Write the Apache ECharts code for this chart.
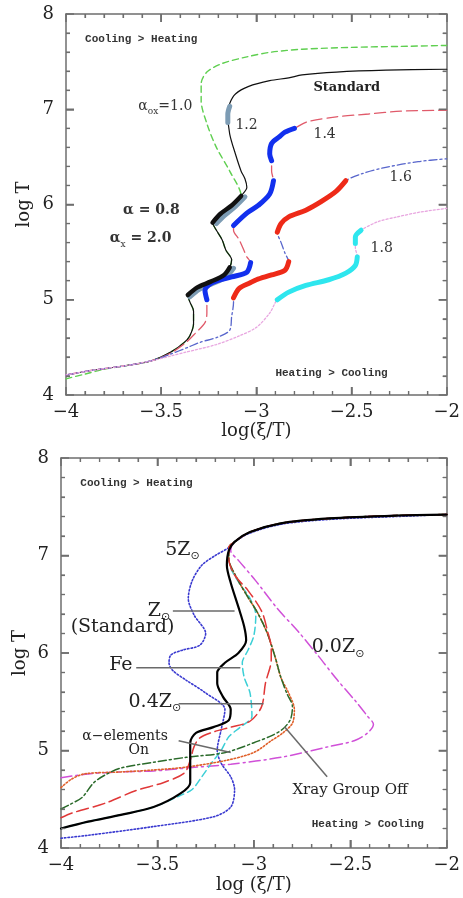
<!DOCTYPE html>
<html>
<head>
<meta charset="utf-8">
<script src="https://cdn.jsdelivr.net/npm/echarts@6.0.0/dist/echarts.min.js"></script>
<style>
html, body { margin: 0; padding: 0; background: #fff; }
#chart { width: 463px; height: 898px; }
</style>
</head>
<body>
<div id="chart"></div>
<script>
// ---- top panel: alpha_ox curves (log xi/T, log T) ----
const aox10 = [[-4,4.17],[-3.9,4.22],[-3.8,4.27],[-3.68,4.31],[-3.55,4.36],[-3.45,4.45],[-3.38,4.55],[-3.35,4.62],[-3.33,4.75],[-3.33,4.88],[-3.35,4.98],[-3.36,5.05],[-3.31,5.13],[-3.24,5.19],[-3.17,5.26],[-3.14,5.34],[-3.13,5.42],[-3.16,5.52],[-3.18,5.63],[-3.21,5.73],[-3.23,5.81],[-3.19,5.90],[-3.13,5.99],[-3.08,6.09],[-3.14,6.35],[-3.21,6.60],[-3.26,6.85],[-3.29,7.09],[-3.29,7.27],[-3.26,7.39],[-3.18,7.48],[-3.05,7.55],[-2.92,7.60],[-2.76,7.63],[-2.50,7.65],[-2.24,7.66],[-2.0,7.67]];
const aox12 = [[-4,4.21],[-3.86,4.26],[-3.68,4.31],[-3.55,4.36],[-3.45,4.45],[-3.38,4.55],[-3.35,4.62],[-3.33,4.75],[-3.33,4.88],[-3.35,4.98],[-3.36,5.05],[-3.31,5.13],[-3.24,5.19],[-3.17,5.26],[-3.14,5.34],[-3.13,5.42],[-3.16,5.52],[-3.18,5.63],[-3.21,5.73],[-3.23,5.81],[-3.19,5.90],[-3.13,5.99],[-3.08,6.09],[-3.05,6.18],[-3.06,6.27],[-3.08,6.35],[-3.11,6.53],[-3.14,6.74],[-3.15,6.95],[-3.14,7.06],[-3.11,7.16],[-3.04,7.24],[-2.93,7.30],[-2.83,7.33],[-2.76,7.36],[-2.58,7.39],[-2.32,7.41],[-2.0,7.42]];
const aox14 = [[-4,4.21],[-3.86,4.26],[-3.68,4.31],[-3.55,4.36],[-3.45,4.44],[-3.37,4.55],[-3.32,4.65],[-3.27,4.76],[-3.26,4.86],[-3.26,5.00],[-3.27,5.10],[-3.23,5.18],[-3.13,5.24],[-3.05,5.29],[-3.03,5.39],[-3.05,5.45],[-3.09,5.63],[-3.12,5.73],[-3.12,5.78],[-3.05,5.91],[-2.99,5.99],[-2.93,6.11],[-2.91,6.25],[-2.92,6.35],[-2.92,6.46],[-2.93,6.53],[-2.92,6.64],[-2.88,6.71],[-2.85,6.76],[-2.80,6.80],[-2.73,6.87],[-2.58,6.92],[-2.41,6.95],[-2.24,6.98],[-2.0,6.99]];
const aox16 = [[-4,4.21],[-3.86,4.26],[-3.68,4.31],[-3.55,4.36],[-3.45,4.43],[-3.36,4.50],[-3.30,4.55],[-3.20,4.61],[-3.14,4.68],[-3.13,4.82],[-3.12,4.97],[-3.12,5.02],[-3.09,5.12],[-3.03,5.18],[-3.00,5.21],[-2.92,5.26],[-2.85,5.31],[-2.83,5.40],[-2.85,5.49],[-2.87,5.60],[-2.89,5.71],[-2.87,5.80],[-2.83,5.87],[-2.74,5.94],[-2.66,6.03],[-2.58,6.14],[-2.53,6.25],[-2.45,6.32],[-2.32,6.39],[-2.15,6.45],[-2.0,6.48]];
const aox18 = [[-4,4.21],[-3.86,4.26],[-3.68,4.31],[-3.55,4.36],[-3.45,4.41],[-3.37,4.45],[-3.21,4.53],[-3.09,4.62],[-3.00,4.71],[-2.93,4.86],[-2.89,5.00],[-2.83,5.08],[-2.74,5.15],[-2.62,5.21],[-2.53,5.28],[-2.48,5.36],[-2.47,5.45],[-2.48,5.55],[-2.48,5.59],[-2.48,5.66],[-2.45,5.73],[-2.36,5.82],[-2.26,5.87],[-2.14,5.92],[-2.0,5.96]];

// unstable (thick) pieces
const aox10Unst1 = [[-3.36,5.05],[-3.31,5.13],[-3.24,5.19],[-3.17,5.26],[-3.14,5.34]];
const aox10Unst2 = [[-3.23,5.81],[-3.19,5.90],[-3.13,5.99],[-3.08,6.09]];
const aox12Unst1 = [[-3.35,5.03],[-3.30,5.11],[-3.23,5.17],[-3.16,5.24],[-3.12,5.33]];
const aox12Unst2 = [[-3.21,5.80],[-3.17,5.88],[-3.11,5.98],[-3.06,6.08]];
const aox12Unst3 = [[-3.15,6.86],[-3.15,6.95],[-3.14,7.03]];
const aox14Unst1 = [[-3.26,5.00],[-3.27,5.10],[-3.23,5.18],[-3.13,5.24],[-3.05,5.29],[-3.03,5.39]];
const aox14Unst2 = [[-3.12,5.78],[-3.05,5.91],[-2.99,5.99],[-2.93,6.11],[-2.91,6.25]];
const aox14Unst3 = [[-2.92,6.46],[-2.93,6.53],[-2.92,6.64],[-2.88,6.71],[-2.85,6.76],[-2.80,6.80]];
const aox16Unst1 = [[-3.12,5.02],[-3.09,5.12],[-3.03,5.18],[-3.00,5.21],[-2.92,5.26],[-2.85,5.31],[-2.83,5.40]];
const aox16Unst2 = [[-2.89,5.71],[-2.87,5.80],[-2.83,5.87],[-2.74,5.94],[-2.66,6.03],[-2.58,6.14],[-2.53,6.25]];
const aox18Unst1 = [[-2.89,5.00],[-2.83,5.08],[-2.74,5.15],[-2.62,5.21],[-2.53,5.28],[-2.48,5.36],[-2.47,5.45]];
const aox18Unst2 = [[-2.48,5.59],[-2.48,5.66],[-2.45,5.73]];

// ---- bottom panel: abundance curves ----
const zStd = [[-4.0,4.20],[-3.86,4.27],[-3.69,4.34],[-3.52,4.42],[-3.38,4.56],[-3.33,4.67],[-3.33,4.80],[-3.33,4.93],[-3.33,5.08],[-3.30,5.18],[-3.21,5.24],[-3.13,5.31],[-3.12,5.42],[-3.16,5.55],[-3.19,5.69],[-3.19,5.80],[-3.15,5.90],[-3.08,6.00],[-3.04,6.13],[-3.05,6.27],[-3.08,6.47],[-3.12,6.72],[-3.14,6.90],[-3.13,7.05],[-3.10,7.14],[-3.02,7.24],[-2.86,7.33],[-2.61,7.38],[-2.26,7.41],[-2.0,7.42]];
const z5 = [[-4.0,4.10],[-3.86,4.13],[-3.52,4.22],[-3.21,4.32],[-3.12,4.42],[-3.10,4.60],[-3.12,4.73],[-3.17,4.87],[-3.19,5.00],[-3.17,5.21],[-3.15,5.42],[-3.25,5.59],[-3.35,5.72],[-3.42,5.82],[-3.44,5.90],[-3.43,5.98],[-3.37,6.03],[-3.28,6.08],[-3.25,6.20],[-3.31,6.39],[-3.34,6.56],[-3.32,6.74],[-3.27,6.90],[-3.20,7.00],[-3.13,7.08],[-3.10,7.14],[-3.02,7.23],[-2.86,7.32],[-2.61,7.37],[-2.26,7.40],[-2.0,7.42]];
const feOnly = [[-4.0,4.20],[-3.86,4.27],[-3.69,4.34],[-3.52,4.42],[-3.38,4.54],[-3.32,4.60],[-3.27,4.73],[-3.22,4.87],[-3.17,5.00],[-3.13,5.14],[-3.07,5.24],[-3.01,5.35],[-3.02,5.59],[-3.05,5.75],[-3.06,5.90],[-3.03,6.03],[-3.00,6.18],[-2.99,6.39],[-3.02,6.56],[-3.07,6.70],[-3.12,6.87],[-3.13,7.00],[-3.13,7.08],[-3.10,7.14],[-3.02,7.24],[-2.86,7.33],[-2.61,7.38],[-2.26,7.41],[-2.0,7.42]];
const z04 = [[-4.0,4.31],[-3.94,4.36],[-3.77,4.46],[-3.61,4.59],[-3.47,4.67],[-3.36,4.77],[-3.33,4.90],[-3.31,5.04],[-3.28,5.13],[-3.21,5.19],[-3.12,5.24],[-3.02,5.30],[-2.96,5.45],[-2.94,5.69],[-2.91,5.93],[-2.91,6.05],[-2.93,6.23],[-2.96,6.43],[-3.03,6.64],[-3.10,6.80],[-3.13,6.97],[-3.13,7.08],[-3.10,7.14],[-3.02,7.24],[-2.86,7.33],[-2.61,7.38],[-2.26,7.41],[-2.0,7.42]];
const alphaOn = [[-4.0,4.40],[-3.96,4.44],[-3.89,4.52],[-3.83,4.67],[-3.77,4.75],[-3.69,4.82],[-3.52,4.88],[-3.35,4.93],[-3.17,4.97],[-3.08,5.02],[-3.00,5.08],[-2.91,5.15],[-2.85,5.22],[-2.81,5.32],[-2.80,5.45],[-2.83,5.59],[-2.86,5.75],[-2.89,5.96],[-2.93,6.20],[-2.98,6.41],[-3.03,6.57],[-3.08,6.74],[-3.13,6.97],[-3.13,7.08],[-3.10,7.14],[-3.02,7.24],[-2.86,7.33],[-2.61,7.38],[-2.26,7.41],[-2.0,7.42]];
const xrayOff = [[-4.0,4.62],[-3.95,4.70],[-3.88,4.76],[-3.69,4.78],[-3.52,4.80],[-3.35,4.83],[-3.14,4.90],[-3.00,4.98],[-2.91,5.10],[-2.85,5.18],[-2.80,5.28],[-2.79,5.42],[-2.82,5.59],[-2.86,5.75],[-2.89,5.96],[-2.93,6.20],[-2.98,6.41],[-3.03,6.57],[-3.08,6.74],[-3.13,6.97],[-3.13,7.08],[-3.10,7.14],[-3.02,7.24],[-2.86,7.33],[-2.61,7.38],[-2.26,7.41],[-2.0,7.42]];
const z00 = [[-4.0,4.72],[-3.86,4.76],[-3.69,4.78],[-3.52,4.79],[-3.35,4.82],[-3.12,4.86],[-2.86,4.93],[-2.61,5.04],[-2.48,5.10],[-2.41,5.18],[-2.38,5.27],[-2.41,5.35],[-2.47,5.50],[-2.57,5.73],[-2.67,5.98],[-2.77,6.22],[-2.88,6.46],[-2.99,6.74],[-3.08,6.95],[-3.12,7.05],[-3.10,7.14],[-3.02,7.24],[-2.86,7.33],[-2.61,7.38],[-2.26,7.41],[-2.0,7.42]];

const X_MIN = -4, X_MAX = -2, X_STEP = 0.5;
const Y_MIN = 4, Y_MAX = 8, Y_STEP = 1;
const MINOR_PER_MAJOR = 5;

const axisGray = '#6e6e6e';
const serif = 'DejaVu Serif';

const chart = echarts.init(document.getElementById('chart'));

function axis(extra, min, max, step) {
    return Object.assign({
        type: 'value',
        min: min, max: max, interval: step,
        axisLine: { show: true, onZero: false, lineStyle: { color: axisGray, width: 1.5 } },
        axisTick: { show: true, inside: true, length: 8, lineStyle: { color: axisGray, width: 1.5 } },
        minorTick: { show: true, splitNumber: MINOR_PER_MAJOR, length: 4, lineStyle: { color: axisGray, width: 1.2 } },
        splitLine: { show: false },
        axisLabel: { show: false },
    }, extra);
}

function labelStyle(margin) {
    return {
        show: true, margin: margin, color: '#222',
        fontFamily: serif, fontSize: 18,
        showMinLabel: true, showMaxLabel: true,
        formatter: v => String(v).replace('-', '\u2212'),
    };
}

function axesFor(gi) {
    const xs = [
        axis({ gridIndex: gi, position: 'bottom', axisLabel: labelStyle(8) }, X_MIN, X_MAX, X_STEP),
        axis({ gridIndex: gi, position: 'top' }, X_MIN, X_MAX, X_STEP),
    ];
    const ys = [
        axis({ gridIndex: gi, position: 'left', axisLabel: labelStyle(12) }, Y_MIN, Y_MAX, Y_STEP),
        axis({ gridIndex: gi, position: 'right' }, Y_MIN, Y_MAX, Y_STEP),
    ];
    return { xs, ys };
}

const topAxes = axesFor(0);
const botAxes = axesFor(1);

function line(gi, data, color, width, dash, z) {
    return {
        type: 'line', xAxisIndex: gi * 2, yAxisIndex: gi * 2,
        data: data, symbol: 'none', smooth: 0.3, silent: true, animation: false,
        lineStyle: { color: color, width: width, type: dash || 'solid', cap: 'round' },
        z: z || 2,
    };
}

const series = [
    // top panel thin curves
    line(0, aox10, '#5fcf50', 1.4, [6, 4]),
    line(0, aox12, '#111', 1.2, 'solid'),
    line(0, aox14, '#e05a6a', 1.3, [11, 5]),
    line(0, aox16, '#5866cc', 1.3, [8, 3, 2, 3]),
    line(0, aox18, '#e8a6e0', 1.3, [2, 2]),
    // top panel thick unstable parts
    line(0, aox12Unst1, '#7d9cb4', 5, 'solid', 3),
    line(0, aox12Unst2, '#7d9cb4', 5, 'solid', 3),
    line(0, aox12Unst3, '#7d9cb4', 5, 'solid', 3),
    line(0, aox10Unst1, '#111', 4.5, 'solid', 4),
    line(0, aox10Unst2, '#111', 4.5, 'solid', 4),
    line(0, aox14Unst1, '#1230ee', 5, 'solid', 3),
    line(0, aox14Unst2, '#1230ee', 5, 'solid', 3),
    line(0, aox14Unst3, '#1230ee', 5, 'solid', 3),
    line(0, aox16Unst1, '#ee2a18', 5, 'solid', 3),
    line(0, aox16Unst2, '#ee2a18', 5, 'solid', 3),
    line(0, aox18Unst1, '#2ee6ee', 5, 'solid', 3),
    line(0, aox18Unst2, '#2ee6ee', 5, 'solid', 3),
    // bottom panel
    line(1, z00, '#d050d8', 1.5, [11, 4, 2, 4]),
    line(1, z5, '#3a3ad0', 1.6, [1.5, 2]),
    line(1, feOnly, '#3ccfd6', 1.5, [7, 4]),
    line(1, xrayOff, '#e0602a', 1.6, [1.5, 2]),
    line(1, alphaOn, '#2a6a2a', 1.5, [8, 3, 2, 3]),
    line(1, z04, '#e03838', 1.5, [12, 5]),
    line(1, zStd, '#000', 2.2, 'solid', 4),
];

chart.setOption({
    animation: false,
    backgroundColor: '#fff',
    grid: [
        { left: 66, top: 14, width: 382, height: 381 },
        { left: 61, top: 458, width: 390, height: 390 },
    ],
    xAxis: topAxes.xs.concat(botAxes.xs),
    yAxis: topAxes.ys.concat(botAxes.ys),
    series: series,
});

// ---- annotations (placed in data coordinates) ----
const mono = 'Liberation Mono';
const rich = {
    m: { fontFamily: serif, fontSize: 19, fill: '#222', lineHeight: 24 },
    s: { fontFamily: 'DejaVu Sans', fontSize: 11, fill: '#222', lineHeight: 12, verticalAlign: 'bottom' },
    t: { fontFamily: serif, fontSize: 14, fill: '#333', lineHeight: 20 },
    tb: { fontFamily: serif, fontSize: 14, fontWeight: 'bold', fill: '#333', lineHeight: 20 },
    ts: { fontFamily: serif, fontSize: 9, fill: '#333', lineHeight: 10, verticalAlign: 'bottom' },
    k: { fontFamily: mono, fontSize: 11, fontWeight: 'bold', fill: '#333', lineHeight: 14 },
    b: { fontFamily: serif, fontSize: 15, fill: '#222', lineHeight: 18 },
    e: { fontFamily: serif, fontSize: 14, fill: '#222', lineHeight: 16 },
    st: { fontFamily: serif, fontSize: 13, fontWeight: 'bold', fill: '#222', lineHeight: 16 },
};

const topNotes = [
    { text: '{k|Cooling > Heating}', at: [-3.90, 7.73] },
    { text: '{st|Standard}', at: [-2.70, 7.23] },
    { text: '{t|\u03b1}{ts|ox}{t|=1.0}', at: [-3.62, 7.03] },
    { text: '{t|1.2}', at: [-3.11, 6.83] },
    { text: '{t|1.4}', at: [-2.70, 6.74] },
    { text: '{t|1.6}', at: [-2.30, 6.29] },
    { text: '{tb|\u03b1 = 0.8}', at: [-3.70, 5.94] },
    { text: '{tb|\u03b1}{ts|x}{tb| = 2.0}', at: [-3.77, 5.64] },
    { text: '{t|1.8}', at: [-2.40, 5.54] },
    { text: '{k|Heating > Cooling}', at: [-2.90, 4.23] },
];
const botNotes = [
    { text: '{k|Cooling > Heating}', at: [-3.90, 7.74] },
    { text: '{m|5Z}{s|\u2299}', at: [-3.46, 7.06] },
    { text: '{m|Z}{s|\u2299}', at: [-3.55, 6.43] },
    { text: '{m|(Standard)}', at: [-3.95, 6.27] },
    { text: '{m|Fe}', at: [-3.75, 5.88] },
    { text: '{m|0.4Z}{s|\u2299}', at: [-3.65, 5.50] },
    { text: '{e|\u03b1\u2212elements}', at: [-3.89, 5.14] },
    { text: '{e|On}', at: [-3.65, 5.00] },
    { text: '{b|Xray Group Off}', at: [-2.80, 4.59] },
    { text: '{m|0.0Z}{s|\u2299}', at: [-2.70, 6.06] },
    { text: '{k|Heating > Cooling}', at: [-2.70, 4.24] },
];
const botPointers = [
    [[-3.42, 6.43], [-3.10, 6.43]],
    [[-3.61, 5.85], [-3.07, 5.85]],
    [[-3.39, 5.48], [-2.95, 5.48]],
    [[-3.39, 5.10], [-3.12, 4.98]],
    [[-2.62, 4.73], [-2.84, 5.24]],
];
// axis titles: [panel, text, data anchor, rotation]
const axisTitles = [
    [0, 'log(\u03be/T)', [-3.0, 3.62], 0],
    [0, 'log T', [-4.22, 6.0], Math.PI / 2],
    [1, 'log (\u03be/T)', [-3.0, 3.62], 0],
    [1, 'log T', [-4.21, 6.0], Math.PI / 2],
];

function toPx(gi, p) {
    return chart.convertToPixel({ xAxisIndex: gi * 2, yAxisIndex: gi * 2 }, p);
}

const graphic = [];
[[0, topNotes], [1, botNotes]].forEach(([gi, notes]) => {
    notes.forEach(n => {
        const p = toPx(gi, n.at);
        graphic.push({
            type: 'text', x: p[0], y: p[1], z: 10, silent: true,
            style: { text: n.text, rich: rich, align: 'left', verticalAlign: 'middle' },
        });
    });
});
axisTitles.forEach(([gi, txt, at, rot]) => {
    const p = toPx(gi, at);
    graphic.push({
        type: 'text', x: p[0], y: p[1], rotation: rot, z: 10, silent: true,
        style: { text: txt, font: '18px "DejaVu Serif"', fill: '#222', align: 'center', verticalAlign: 'middle' },
    });
});
botPointers.forEach(([a, b]) => {
    const p = toPx(1, a), q = toPx(1, b);
    graphic.push({
        type: 'line', z: 9, silent: true,
        shape: { x1: p[0], y1: p[1], x2: q[0], y2: q[1] },
        style: { stroke: '#6a6a6a', lineWidth: 1.5 },
    });
});

// inward ticks on all four sides (the axis ticks did not render with mirrored axes)
function tick(x1, y1, x2, y2, major) {
    graphic.push({
        type: 'line', z: 8, silent: true,
        shape: { x1: x1, y1: y1, x2: x2, y2: y2 },
        style: { stroke: axisGray, lineWidth: major ? 1.5 : 1.2 },
    });
}
[0, 1].forEach(gi => {
    const nx = Math.round((X_MAX - X_MIN) / X_STEP) * MINOR_PER_MAJOR;
    const ny = Math.round((Y_MAX - Y_MIN) / Y_STEP) * MINOR_PER_MAJOR;
    for (let i = 1; i < nx; i++) {
        const v = X_MIN + i * X_STEP / MINOR_PER_MAJOR;
        const major = i % MINOR_PER_MAJOR === 0;
        const len = major ? 8 : 4;
        const b = toPx(gi, [v, Y_MIN]);
        const t = toPx(gi, [v, Y_MAX]);
        tick(b[0], b[1], b[0], b[1] - len, major);
        tick(t[0], t[1], t[0], t[1] + len, major);
    }
    for (let i = 1; i < ny; i++) {
        const v = Y_MIN + i * Y_STEP / MINOR_PER_MAJOR;
        const major = i % MINOR_PER_MAJOR === 0;
        const len = major ? 8 : 4;
        const l = toPx(gi, [X_MIN, v]);
        const r = toPx(gi, [X_MAX, v]);
        tick(l[0], l[1], l[0] + len, l[1], major);
        tick(r[0], r[1], r[0] - len, r[1], major);
    }
});

chart.setOption({ graphic: graphic });
</script>
</body>
</html>
